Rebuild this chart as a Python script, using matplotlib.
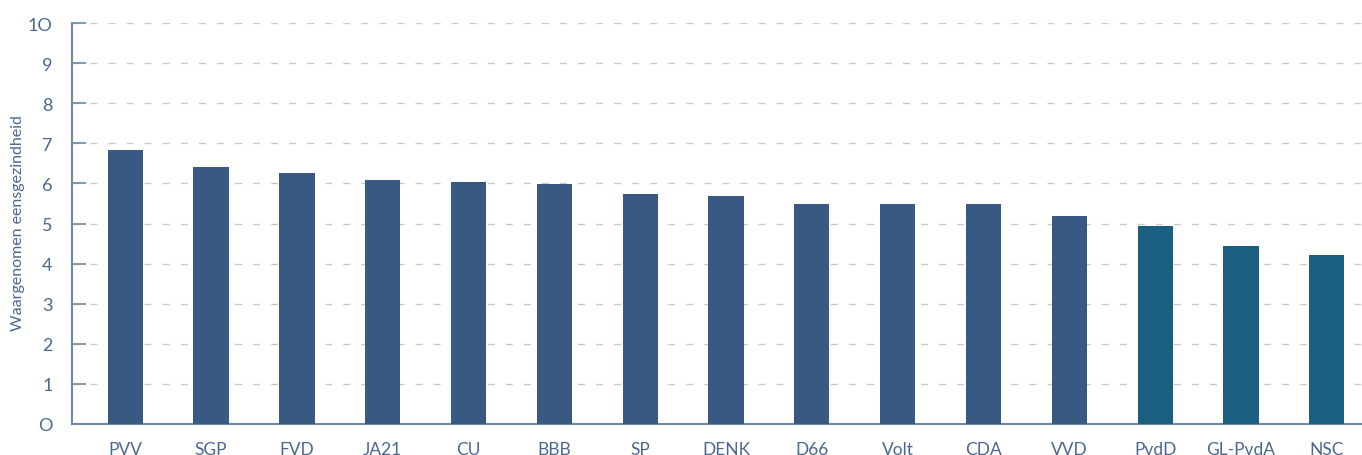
import numpy as np
import matplotlib.pyplot as plt

# partijen en waargenomen eensgezindheid
partijen = ['PVV', 'SGP', 'FVD', 'JA21', 'CU', 'BBB', 'SP', 'DENK', 'D66',
            'Volt', 'CDA', 'VVD', 'PvdD', 'GL-PvdA', 'NSC']
scores = [6.83, 6.41, 6.25, 6.08, 6.03, 5.98, 5.75, 5.70, 5.48,
          5.48, 5.48, 5.20, 4.94, 4.44, 4.21]
groep = ['a'] * 12 + ['b'] * 3
y_ticks = list(range(0, 11))
y_labels = ['O', '1', '2', '3', '4', '5', '6', '7', '8', '9', '1O']

kleuren = {'a': '#385A82', 'b': '#1A5F80'}
tekst_kleur = '#4A6790'
as_kleur = '#6F8AA8'

plt.rcParams['font.family'] = ['Lato', 'DejaVu Sans']

fig = plt.figure(figsize=(13.62, 4.56), dpi=100)
ax = fig.add_axes([0.0529, 0.068, 0.9471, 0.879])

x = np.arange(len(partijen))
ax.bar(x, scores, width=0.41, color=[kleuren[g] for g in groep], zorder=3)

ax.set_ylim(0, 10)
ax.set_xlim(-0.62, 14.41)
ax.set_yticks(y_ticks)
ax.set_yticklabels(y_labels)
ax.set_xticks(x)
ax.set_xticklabels(partijen)

ax.yaxis.grid(True, color='#c8c8c8', linestyle=(0, (5, 8)), linewidth=1.0, zorder=0)
ax.tick_params(axis='y', direction='in', length=10, width=1.2, color=as_kleur,
               labelsize=13, labelcolor=tekst_kleur, pad=14)
ax.tick_params(axis='x', length=0, labelsize=12.5, labelcolor=tekst_kleur, pad=12)

for s in ['top', 'right']:
    ax.spines[s].set_visible(False)
for s in ['left', 'bottom']:
    ax.spines[s].set_color(as_kleur)
    ax.spines[s].set_linewidth(1.5)

# as-titel los geplaatst zodat hij niet buiten beeld valt
fig.text(18 / 1362, 0.51, 'Waargenomen eensgezindheid', rotation=90,
         ha='center', va='center', fontsize=11.5, color=tekst_kleur)

fig.savefig('out.png', dpi=100)
